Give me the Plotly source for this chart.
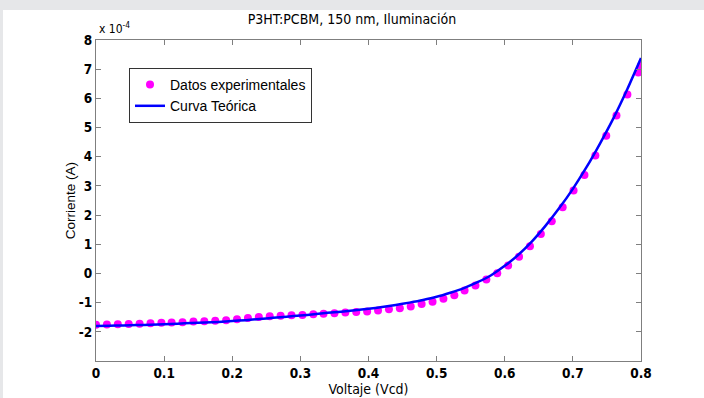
import plotly.graph_objects as go

# Experimental data (V, I in units of 1e-4 A)
v_exp = [0.000, 0.016, 0.032, 0.048, 0.064, 0.080, 0.096, 0.111, 0.127, 0.143,
         0.159, 0.175, 0.191, 0.207, 0.223, 0.239, 0.255, 0.271, 0.287, 0.303,
         0.319, 0.334, 0.350, 0.366, 0.382, 0.398, 0.414, 0.430, 0.446, 0.462,
         0.478, 0.494, 0.510, 0.526, 0.541, 0.557, 0.573, 0.589, 0.605, 0.621,
         0.637, 0.653, 0.669, 0.685, 0.701, 0.717, 0.733, 0.749, 0.764, 0.780,
         0.796, 0.800]
i_exp = [-1.76, -1.75, -1.74, -1.73, -1.72, -1.71, -1.69, -1.68, -1.67, -1.65,
         -1.64, -1.62, -1.60, -1.57, -1.53, -1.49, -1.47, -1.45, -1.43, -1.42,
         -1.40, -1.38, -1.36, -1.34, -1.32, -1.30, -1.27, -1.23, -1.19, -1.13,
         -1.05, -0.97, -0.87, -0.75, -0.58, -0.41, -0.21, 0.01, 0.27, 0.57,
         0.93, 1.35, 1.79, 2.27, 2.84, 3.37, 4.04, 4.72, 5.41, 6.13,
         6.89, 7.12]

# Theoretical curve
v_fit = [0.00, 0.02, 0.04, 0.06, 0.08, 0.10, 0.12, 0.14, 0.16, 0.18,
         0.20, 0.22, 0.24, 0.26, 0.28, 0.30, 0.32, 0.34, 0.36, 0.38,
         0.40, 0.42, 0.44, 0.46, 0.48, 0.50, 0.52, 0.54, 0.56, 0.58,
         0.60, 0.62, 0.64, 0.66, 0.68, 0.70, 0.72, 0.74, 0.76, 0.78,
         0.80]
i_fit = [-1.80, -1.79, -1.78, -1.77, -1.76, -1.74, -1.72, -1.70, -1.68, -1.66,
         -1.63, -1.60, -1.56, -1.52, -1.48, -1.44, -1.40, -1.35, -1.31, -1.26,
         -1.21, -1.15, -1.08, -1.00, -0.91, -0.80, -0.66, -0.50, -0.30, -0.06,
         0.26, 0.64, 1.10, 1.64, 2.24, 2.90, 3.64, 4.46, 5.34, 6.32,
         7.38]

x_ticks = [0, 0.1, 0.2, 0.3, 0.4, 0.5, 0.6, 0.7, 0.8]
x_ticktext = ["0", "0.1", "0.2", "0.3", "0.4", "0.5", "0.6", "0.7", "0.8"]
y_ticks = [-2, -1, 0, 1, 2, 3, 4, 5, 6, 7, 8]
y_ticktext = ["-2", "-1", "0", "1", "2", "3", "4", "5", "6", "7", "8"]

NARROW = "DejaVu Sans Condensed, Liberation Sans Narrow, Arial Narrow, Liberation Sans, Arial, sans-serif"
REG = "Liberation Sans, Arial, sans-serif"

W, H = 704, 398
L, R, T, B = 96, 63, 40, 37
pw, ph = W - L - R, H - T - B

def px(x):
    return (x - L) / pw

def py(y):
    return 1 - (y - T) / ph

fig = go.Figure()
fig.add_trace(go.Scatter(x=v_exp, y=i_exp, mode="markers",
                         name="Datos experimentales",
                         marker=dict(color="#ff00ff", size=8, line=dict(width=0))))
fig.add_trace(go.Scatter(x=v_fit, y=i_fit, mode="lines", name="Curva Teórica",
                         line=dict(color="#0000ff", width=2.5, shape="spline", smoothing=0.6)))

axis_common = dict(showgrid=False, zeroline=False, showline=True, linecolor="#7f7f7f",
                   linewidth=1, mirror="ticks", ticks="inside", ticklen=5,
                   tickcolor="#7f7f7f", tickwidth=1, automargin=False)

fig.update_xaxes(range=[0, 0.8], tickvals=x_ticks, ticktext=x_ticktext,
                 tickfont=dict(family=NARROW, size=13.5, color="black", weight="bold"),
                 ticklabelstandoff=0,
                 title=dict(text="Voltaje (Vcd)", font=dict(family=NARROW, size=14, color="black"),
                            standoff=3),
                 **axis_common)
fig.update_yaxes(range=[-3, 8], tickvals=y_ticks, ticktext=y_ticktext,
                 tickfont=dict(family=NARROW, size=13.5, color="black", weight="bold"),
                 title=dict(text="Corriente (A)", font=dict(family=REG, size=13.5, color="black"),
                            standoff=0),
                 **axis_common)

fig.update_layout(
    width=W, height=H,
    margin=dict(l=L, r=R, t=T, b=B, pad=0, autoexpand=False),
    paper_bgcolor="#e6e7e9",
    plot_bgcolor="white",
    title=dict(text="P3HT:PCBM, 150 nm, Iluminación", x=px(368.5), xanchor="center",
               y=1 - 19.5 / H, yanchor="middle",
               font=dict(family=NARROW, size=14, color="black")),
    legend=dict(x=px(129), y=py(68), xanchor="left", yanchor="top",
                bgcolor="white", bordercolor="#333333", borderwidth=1,
                font=dict(family=REG, size=14, color="black"),
                itemwidth=30, tracegroupgap=0),
    showlegend=True,
    shapes=[dict(type="rect", xref="paper", yref="paper",
                 x0=px(3), x1=px(W + 5), y0=py(H + 5), y1=py(10),
                 fillcolor="white", line=dict(width=0), layer="below")],
    annotations=[dict(text="x 10<sup>-4</sup>", xref="paper", yref="paper",
                      x=px(97), y=py(38), xanchor="left", yanchor="bottom",
                      showarrow=False,
                      font=dict(family=NARROW, size=12, color="black"))],
)

fig.write_html("out.html")
